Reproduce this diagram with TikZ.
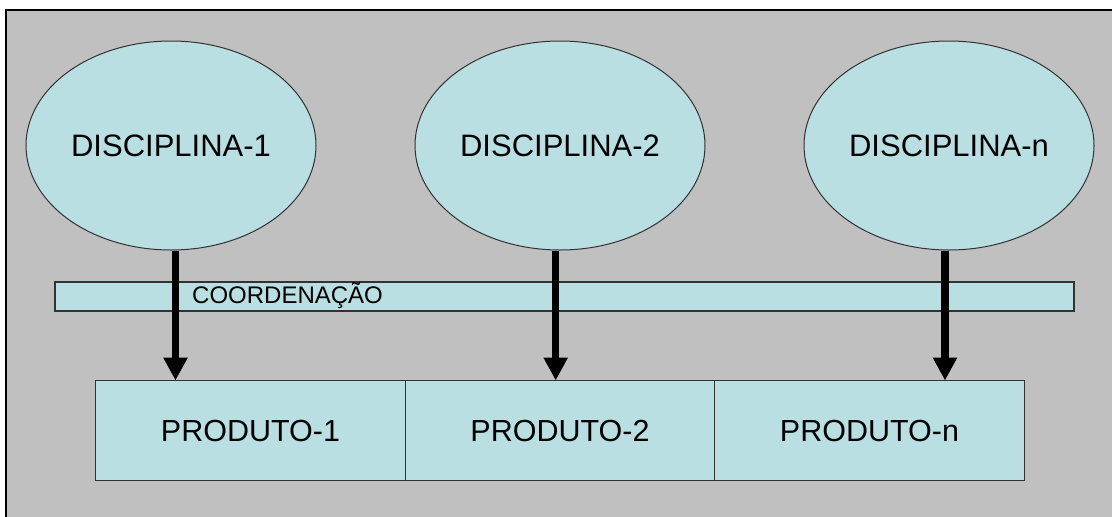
\documentclass[tikz,border=0pt]{standalone}
\usepackage{fontspec}
\setmainfont{Liberation Sans}
\usetikzlibrary{arrows.meta,positioning,shapes.geometric}
\definecolor{panelgray}{RGB}{192,192,192}
\definecolor{paleblue}{RGB}{185,223,227}
\definecolor{edgegray}{RGB}{50,50,50}
\tikzset{
  disc/.style={draw=edgegray, fill=paleblue, ellipse, line width=1pt, minimum width=290pt, minimum height=209pt, inner sep=0pt, font=\fontsize{31}{36}\selectfont},
  prod/.style={draw=edgegray, fill=paleblue, line width=1.2pt, minimum width=309.5pt, minimum height=100pt, inner sep=0pt, outer sep=0pt, font=\fontsize{30.5}{35}\selectfont},
  coordbar/.style={draw=edgegray, fill=paleblue, line width=1.2pt, minimum width=1019pt, minimum height=29pt, inner sep=0pt},
  flow/.style={-{Triangle[width=23pt,length=23pt]}, line width=7.5pt, black}
}

\begin{document}
\begin{tikzpicture}[x=1pt, y=-1pt]
\useasboundingbox (0,0) rectangle (1112,517);
\fill[panelgray] (6,10) rectangle (1112,517);
\draw[line width=2pt] (6,517) -- (6,10) -- (1112,10);

% barra de coordenacao
\node[coordbar] (bar) at (564.5,296.5) {};
\node[anchor=base west, inner sep=0pt, font=\fontsize{24}{28}\selectfont] (barlabel) at (192,303.7) {COORDENAÇÃO};

% disciplinas
\node[disc] (d1) at (171,145.5) {DISCIPLINA-1};
\node[disc] (d2) at (560,145.5) {DISCIPLINA-2};
\node[disc] (dn) at (949,145.5) {DISCIPLINA-n};

% produtos
\node[prod] (p1) at (250.5,430.5) {PRODUTO-1};
\node[prod, right=0pt of p1] (p2) {PRODUTO-2};
\node[prod, right=0pt of p2] (pn) {PRODUTO-n};

\draw[flow] ([xshift=4.5pt]d1.south) -- ([xshift=4.5pt]d1.south |- p1.north);
\draw[flow] ([xshift=-4.3pt]d2.south) -- ([xshift=-4.3pt]d2.south |- p2.north);
\draw[flow] ([xshift=-4pt]dn.south) -- ([xshift=-4pt]dn.south |- pn.north);
\end{tikzpicture}
\end{document}
